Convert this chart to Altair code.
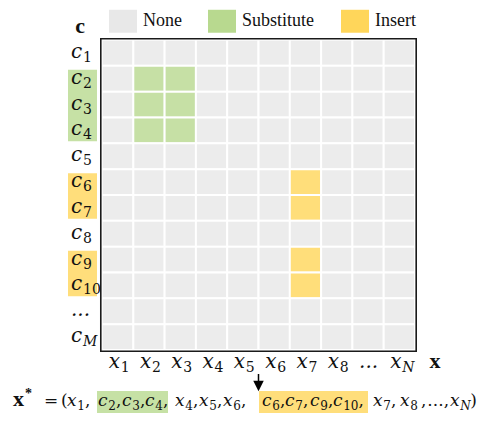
import altair as alt
import pandas as pd

# ---------------- data ----------------
col_keys = ["x1", "x2", "x3", "x4", "x5", "x6", "x7", "x8", "xdots", "xN"]
col_base = ["x", "x", "x", "x", "x", "x", "x", "x", "...", "x"]
col_sub = ["1", "2", "3", "4", "5", "6", "7", "8", "", "N"]

row_keys = ["c1", "c2", "c3", "c4", "c5", "c6", "c7", "c8", "c9", "c10", "cdots", "cM"]
row_base = ["c", "c", "c", "c", "c", "c", "c", "c", "c", "c", "...", "c"]
row_sub = ["1", "2", "3", "4", "5", "6", "7", "8", "9", "10", "", "M"]

status_names = ["None", "Substitute", "Insert"]
status_colors = ["#e8e8e8", "#b8d98f", "#ffd65a"]

substitute_cols = ["x2", "x3"]
substitute_rows = ["c2", "c3", "c4"]
insert_cols = ["x7"]
insert_rows = ["c6", "c7", "c9", "c10"]

row_groups_status = ["Substitute", "Insert", "Insert"]
row_groups_rows = [["c2", "c3", "c4"], ["c6", "c7"], ["c9", "c10"]]

formula_base = ["x", "c", "c", "c", "x", "x", "x", "c", "c", "c", "c", "x", "x", "x"]
formula_sub = ["1", "2", "3", "4", "4", "5", "6", "6", "7", "9", "10", "7", "8", "N"]
formula_green = [1, 2, 3]
formula_yellow = [7, 8, 9, 10]

# ---------------- layout (pixels, relative to plot origin) ----------------
W, H = 313, 310
OX = 102  # page x of plot left
formula_x_page = [67, 98, 122, 145, 175, 199, 223, 262, 285, 310, 333, 373, 400]
F_BASE = 366
F_SUB = 370

MATH = "DejaVu Serif"
TXT = "#111111"
LBL_FS, LBL_SUB_FS = 20, 14
F_FS, F_SUB_FS = 17, 12


def sub_style(s):
    return "italic" if s.isalpha() else "normal"


# cells
cells = []
for i, r in enumerate(row_keys):
    for j, c in enumerate(col_keys):
        if c in substitute_cols and r in substitute_rows:
            s = "Substitute"
        elif c in insert_cols and r in insert_rows:
            s = "Insert"
        else:
            s = "None"
        cells.append({"col": j, "col2": j + 1, "row": i, "row2": i + 1, "status": s})
cells = pd.DataFrame(cells)

xs = alt.Scale(domain=[0, len(col_keys)], nice=False, zero=False)
ys = alt.Scale(domain=[0, len(row_keys)], nice=False, zero=False, reverse=True)
cs = alt.Scale(domain=status_names, range=status_colors)

legend = alt.Legend(
    title=None, orient="none", legendX=7, legendY=-33, direction="horizontal",
    symbolType="M-1,-0.82H1V0.82H-1Z", symbolSize=784, symbolStrokeWidth=0,
    symbolOpacity=1, labelFont="Liberation Serif", labelFontSize=18,
    labelColor=TXT, labelOffset=6, columnPadding=26, padding=0, rowPadding=0,
)

cell_layer = alt.Chart(cells).mark_rect(opacity=0.8, stroke="white", strokeWidth=2).encode(
    x=alt.X("col:Q", scale=xs, axis=None),
    x2="col2:Q",
    y=alt.Y("row:Q", scale=ys, axis=None),
    y2="row2:Q",
    color=alt.Color("status:N", scale=cs, legend=legend),
)

frame_df = pd.DataFrame([{"x0": 0, "x1": len(col_keys), "y0": 0, "y1": len(row_keys)}])
frame = alt.Chart(frame_df).mark_rect(
    filled=False, stroke="#1a1a1a", strokeWidth=1.6,
    xOffset=-1.2, x2Offset=1.2, yOffset=-1.2, y2Offset=1.2,
).encode(x="x0:Q", x2="x1:Q", y="y0:Q", y2="y1:Q")

# row label highlight boxes
boxes = []
for s, rows in zip(row_groups_status, row_groups_rows):
    idx = [row_keys.index(r) for r in rows]
    boxes.append({"status": s, "y0": min(idx), "y1": max(idx) + 1})
boxes = pd.DataFrame(boxes)
box_layer = alt.Chart(boxes).mark_rect(opacity=0.8, yOffset=4, y2Offset=-2).encode(
    x=alt.value(-34), x2=alt.value(-5),
    y="y0:Q", y2="y1:Q",
    color=alt.Color("status:N", scale=cs, legend=None),
)


def text_layer(df, x, y, text, style, fs, **kw):
    return alt.Chart(df).mark_text(
        font=MATH, fontStyle=style, fontSize=fs, align="left",
        baseline="alphabetic", color=TXT, **kw
    ).encode(x=x, y=y, text=text)


rows_df = pd.DataFrame({"center": [i + 0.5 for i in range(len(row_keys))],
                        "base": row_base, "sub": row_sub,
                        "st": [sub_style(s) for s in row_sub]})
row_layers = [
    text_layer(rows_df, alt.value(-31), "center:Q", "base:N", "italic", LBL_FS, dy=5),
    text_layer(rows_df[rows_df.st == "normal"], alt.value(-19), "center:Q", "sub:N",
               "normal", LBL_SUB_FS, dy=9),
    text_layer(rows_df[rows_df.st == "italic"], alt.value(-19), "center:Q", "sub:N",
               "italic", LBL_SUB_FS, dy=9),
]

cols_df = pd.DataFrame({"center": [j + 0.5 for j in range(len(col_keys))],
                        "base": col_base, "sub": col_sub,
                        "st": [sub_style(s) for s in col_sub]})
col_layers = [
    text_layer(cols_df, "center:Q", alt.value(328), "base:N", "italic", LBL_FS, dx=-9),
    text_layer(cols_df[cols_df.st == "normal"], "center:Q", alt.value(332), "sub:N",
               "normal", LBL_SUB_FS, dx=3),
    text_layer(cols_df[cols_df.st == "italic"], "center:Q", alt.value(332), "sub:N",
               "italic", LBL_SUB_FS, dx=3),
]

axis_names = pd.DataFrame({"t": ["c", "x"], "px": [-22, 333], "py": [-7, 328]})
axis_name_layer = alt.Chart(axis_names).mark_text(
    font="Liberation Serif", fontWeight="bold", fontSize=22, align="center",
    baseline="alphabetic", color=TXT,
).encode(x=alt.X("px:Q", scale=None), y=alt.Y("py:Q", scale=None), text="t:N")

# arrow between x5 and x6
arrow_df = pd.DataFrame({"x": [col_keys.index("x6")]})
arrow_shaft = alt.Chart(arrow_df).mark_rule(color="#000", strokeWidth=1.5).encode(
    x="x:Q", y=alt.value(334), y2=alt.value(343))
arrow_head = alt.Chart(arrow_df).mark_point(
    shape="M-1,-1L1,-1L0,1Z", filled=True, size=110, color="#000", opacity=1,
).encode(x="x:Q", y=alt.value(346))

# formula: term positions, punctuation placed after each term
BASE_W = 0.6 * F_FS
SUB_W = 0.64 * F_SUB_FS
COMMA_W = 0.32 * F_FS
DOT_W = 0.32 * F_FS

fx = [p - OX for p in formula_x_page]
tail_x = fx[-1] + BASE_W + SUB_W * len(formula_sub[len(fx) - 1]) + 3
tail = [(",", tail_x)]
tail_x += COMMA_W + 1
tail.append(("...", tail_x))
tail_x += 3 * DOT_W
tail.append((",", tail_x))
tail_x += COMMA_W + 1
fx.append(tail_x)  # x_N
close_x = tail_x + BASE_W + 0.75 * F_SUB_FS + 1

fboxes = pd.DataFrame([
    {"status": "Substitute", "x0": fx[formula_green[0]] - 1, "x1": fx[formula_green[-1] + 1] - 7},
    {"status": "Insert", "x0": fx[formula_yellow[0]] - 3, "x1": fx[formula_yellow[-1] + 1] - 5},
])
fbox_layer = alt.Chart(fboxes).mark_rect(opacity=0.8).encode(
    x=alt.X("x0:Q", scale=None), x2="x1:Q",
    y=alt.value(F_BASE - 15), y2=alt.value(F_BASE + 7),
    color=alt.Color("status:N", scale=cs, legend=None),
)

fterm = pd.DataFrame({"x": fx, "subx": [x + BASE_W for x in fx],
                      "base": formula_base, "sub": formula_sub,
                      "st": [sub_style(s) for s in formula_sub]})
f_layers = [
    text_layer(fterm, alt.X("x:Q", scale=None), alt.value(F_BASE), "base:N", "italic", F_FS),
    text_layer(fterm[fterm.st == "normal"], alt.X("subx:Q", scale=None), alt.value(F_SUB),
               "sub:N", "normal", F_SUB_FS),
    text_layer(fterm[fterm.st == "italic"], alt.X("subx:Q", scale=None), alt.value(F_SUB),
               "sub:N", "italic", F_SUB_FS),
]

plain = [{"t": "=", "x": 44 - OX}, {"t": "(", "x": 61 - OX}]
for k in range(len(fx) - 2):
    plain.append({"t": ",", "x": fx[k] + BASE_W + SUB_W * len(formula_sub[k])})
plain += [{"t": t, "x": x} for t, x in tail]
plain.append({"t": ")", "x": close_x})
plain = pd.DataFrame(plain)
plain_layer = text_layer(plain, alt.X("x:Q", scale=None), alt.value(F_BASE), "t:N",
                         "normal", F_FS)

xstar = pd.DataFrame({"t": ["x", "*"], "x": [13 - OX, 25 - OX],
                      "y": [F_BASE, F_BASE - 8], "fs": [22, 14]})
xstar_layer = alt.Chart(xstar).mark_text(
    font="Liberation Serif", fontWeight="bold", align="left", baseline="alphabetic", color=TXT,
).encode(x=alt.X("x:Q", scale=None), y=alt.Y("y:Q", scale=None),
         text="t:N", size=alt.Size("fs:Q", scale=None, legend=None))

chart = alt.layer(
    cell_layer, frame, box_layer, *row_layers, *col_layers, axis_name_layer,
    arrow_shaft, arrow_head, fbox_layer, *f_layers, plain_layer, xstar_layer,
).properties(
    width=W, height=H,
    autosize=alt.AutoSizeParams(type="none"),
    padding={"left": 94, "top": 32, "right": 73, "bottom": 67},
).configure_view(stroke=None).configure(background="white")

chart.save("out.html", embed_options={"renderer": "svg", "actions": False})
